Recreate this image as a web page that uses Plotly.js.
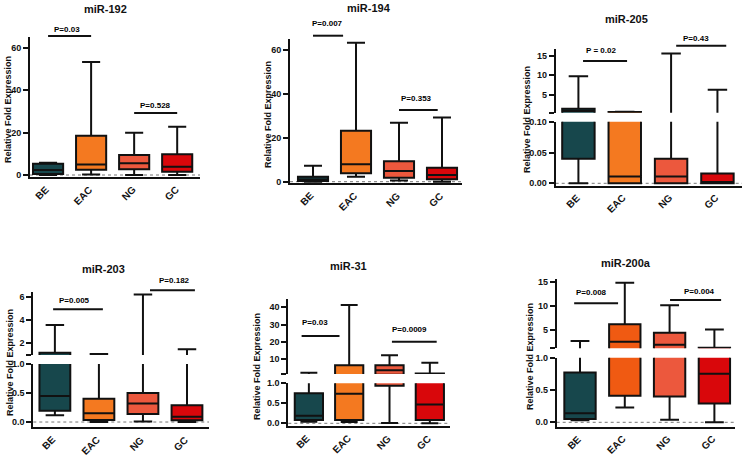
<!DOCTYPE html>
<html>
<head>
<meta charset="utf-8">
<script src="https://cdn.plot.ly/plotly-3.0.1.min.js"></script>
<style>html,body{margin:0;padding:0;background:#fff;}#chart{width:745px;height:456px;}</style>
</head>
<body>
<div id="chart"></div>
<script>
// ---------- DATA ----------
const categories = ['BE', 'EAC', 'NG', 'GC'];
const colors = ['#17474c', '#f47920', '#ec583d', '#d9070b'];
const colors200a = ['#17474c', '#f05a12', '#ec583d', '#d9070b'];

// miR-192
const mir192Min = [0, 0.3, 0, 0];
const mir192Q1  = [0.5, 2.5, 2.7, 1.5];
const mir192Med = [2.4, 5, 5.5, 3.9];
const mir192Q3  = [5.3, 18.6, 9.4, 9.8];
const mir192Max = [5.8, 53.4, 20, 22.8];

// miR-194
const mir194Min = [0, 2.3, 0.5, 0];
const mir194Q1  = [0.3, 3.8, 1.8, 1.1];
const mir194Med = [1, 7.9, 4.9, 3.0];
const mir194Q3  = [2.3, 23.2, 9.3, 6.4];
const mir194Max = [7.3, 63.3, 26.9, 29.3];

// miR-205
const mir205Min = [0, 0, 0, 0];
const mir205Q1  = [0.04, 0, 0, 0];
const mir205Med = [0.85, 0.011, 0.011, 0.002];
const mir205Q3  = [1.4, 0.6, 0.04, 0.016];
const mir205Max = [9.75, 0.65, 15.6, 6.3];

// miR-203
const mir203Min = [0.115, 0, 0.01, 0];
const mir203Q1  = [0.195, 0.034, 0.14, 0.03];
const mir203Med = [0.45, 0.15, 0.32, 0.09];
const mir203Q3  = [1.2, 0.4, 0.5, 0.29];
const mir203Max = [3.57, 1.08, 6.2, 1.49];

// miR-31
const mir31Min = [0.04, 0.03, 0.01, 0];
const mir31Q1  = [0.08, 0.08, 0.94, 0.08];
const mir31Med = [0.19, 0.74, 3.6, 0.47];
const mir31Q3  = [0.75, 6.5, 6.5, 1.7];
const mir31Max = [2.1, 41.3, 12.3, 7.9];

// miR-200a
const mir200aMin = [0.03, 0.23, 0.04, 0];
const mir200aQ1  = [0.05, 0.41, 0.4, 0.29];
const mir200aMed = [0.14, 2.55, 1.9, 0.75];
const mir200aQ3  = [0.77, 6.2, 4.4, 1.3];
const mir200aMax = [2.7, 14.9, 10.2, 5.1];

// ---------- LAYOUT ----------
const W = 745, H = 456;
const FONT = 'Liberation Sans, Arial, sans-serif';
const INK = '#111';
const b = s => '<b>' + s + '</b>';

const panels = [
  {title: 'miR-192', min: mir192Min, q1: mir192Q1, med: mir192Med, q3: mir192Q3, max: mir192Max, colors: colors,
   xpx: [30, 200], xrange: [-0.42, 3.53], titlePos: [105, 9], ytitlePos: [8, 110],
   segs: [{py: [37, 177], range: [-0.94, 65.2], tickvals: [0, 20, 40, 60], ticktext: ['0', '20', '40', '60']}],
   brackets: [{x0: 0, x1: 1, py: 36, text: 'P=0.03', tx: 0.44, ty: 30},
              {x0: 2, x1: 3, py: 113, text: 'P=0.528', tx: 2.49, ty: 106}]},
  {title: 'miR-194', min: mir194Min, q1: mir194Q1, med: mir194Med, q3: mir194Q3, max: mir194Max, colors: colors,
   xpx: [290, 462], xrange: [-0.535, 3.465], titlePos: [369, 8], ytitlePos: [268, 115],
   segs: [{py: [39, 183], range: [-0.59, 65.0], tickvals: [0, 20, 40, 60], ticktext: ['0', '20', '40', '60']}],
   brackets: [{x0: 0, x1: 0.7, py: 35.7, text: 'P=0.007', tx: 0.33, ty: 24},
              {x0: 2, x1: 2.9, py: 110, text: 'P=0.353', tx: 2.4, ty: 98}]},
  {title: 'miR-205', min: mir205Min, q1: mir205Q1, med: mir205Med, q3: mir205Q3, max: mir205Max, colors: colors,
   xpx: [555.7, 742], xrange: [-0.49, 3.53], titlePos: [626, 19], ytitlePos: [527, 120],
   segs: [{py: [121.7, 185.7], range: [-0.0039, 0.10], tickvals: [0, 0.05, 0.10], ticktext: ['0.00', '0.05', '0.10']},
          {py: [49, 112.7], range: [0.4, 16.74], tickvals: [0.42, 5, 10, 15], ticktext: ['', '5', '10', '15']}],
   brackets: [{x0: 0.1, x1: 1.05, py: 61, text: 'P = 0.02', tx: 0.48, ty: 51},
              {x0: 2.11, x1: 3.19, py: 45.7, text: 'P=0.43', tx: 2.54, ty: 38}]},
  {title: 'miR-203', min: mir203Min, q1: mir203Q1, med: mir203Med, q3: mir203Q3, max: mir203Max, colors: colors,
   xpx: [33.3, 209], xrange: [-0.49, 3.50], titlePos: [103, 269], ytitlePos: [10, 363],
   segs: [{py: [364, 427.3], range: [-0.091, 1.0], tickvals: [0, 0.5, 1.0], ticktext: ['0.0', '0.5', '1.0']},
          {py: [291.7, 355], range: [1.0, 6.43], tickvals: [1.01, 2, 4, 6], ticktext: ['', '2', '4', '6']}],
   brackets: [{x0: -0.04, x1: 1.09, py: 309.3, text: 'P=0.005', tx: 0.435, ty: 300},
              {x0: 2.16, x1: 3.18, py: 290.3, text: 'P=0.182', tx: 2.71, ty: 280}]},
  {title: 'miR-31', min: mir31Min, q1: mir31Q1, med: mir31Med, q3: mir31Q3, max: mir31Max, colors: colors,
   xpx: [288.3, 450], xrange: [-0.51, 3.50], titlePos: [348, 266], ytitlePos: [257, 367],
   segs: [{py: [383.3, 426], range: [-0.0675, 1.0], tickvals: [0, 0.5, 1.0], ticktext: ['0.0', '0.5', '1.0']},
          {py: [299, 374], range: [1.4, 44.8], tickvals: [1.43, 10, 20, 30, 40], ticktext: ['', '10', '20', '30', '40']}],
   brackets: [{x0: -0.18, x1: 0.76, py: 336, text: 'P=0.03', tx: 0.15, ty: 322.7},
              {x0: 2.06, x1: 3.17, py: 341.7, text: 'P=0.0009', tx: 2.49, ty: 329}]},
  {title: 'miR-200a', min: mir200aMin, q1: mir200aQ1, med: mir200aMed, q3: mir200aQ3, max: mir200aMax, colors: colors200a,
   xpx: [556.7, 735], xrange: [-0.52, 3.46], titlePos: [626, 263], ytitlePos: [530, 357],
   segs: [{py: [357.7, 426.7], range: [-0.068, 1.0], tickvals: [0, 0.5, 1.0], ticktext: ['0.0', '0.5', '1.0']},
          {py: [279.3, 348.3], range: [1.16, 15.63], tickvals: [1.18, 5, 10, 15], ticktext: ['', '5', '10', '15']}],
   brackets: [{x0: -0.13, x1: 0.85, py: 303.3, text: 'P=0.008', tx: 0.26, ty: 292.7},
              {x0: 2.01, x1: 3.15, py: 300, text: 'P=0.004', tx: 2.66, ty: 291.3}]}
];

const layout = {
  width: W, height: H,
  margin: {l: 0, r: 0, t: 0, b: 0},
  paper_bgcolor: '#ffffff', plot_bgcolor: 'rgba(0,0,0,0)',
  showlegend: false,
  font: {family: FONT, color: INK},
  shapes: [], annotations: []
};
const data = [];

function axKey(letter, n) { return n === 1 ? letter + 'axis' : letter + 'axis' + n; }
function axRef(letter, n) { return n === 1 ? letter : letter + n; }

let yi = 1;
panels.forEach((p, i) => {
  const xn = i + 1;
  const xr = axRef('x', xn);
  const lowerY = yi;
  layout[axKey('x', xn)] = {
    domain: [p.xpx[0] / W, p.xpx[1] / W], range: p.xrange,
    type: 'category', categoryorder: 'array', categoryarray: categories,
    anchor: axRef('y', lowerY),
    showline: true, linewidth: 2, linecolor: INK, ticks: '', showticklabels: false,
    showgrid: false, zeroline: false, fixedrange: true
  };
  p.segs.forEach((s) => {
    const yn = yi++;
    const yr = axRef('y', yn);
    layout[axKey('y', yn)] = {
      domain: [1 - s.py[1] / H, 1 - s.py[0] / H], range: s.range, anchor: xr,
      showline: true, linewidth: 2, linecolor: INK,
      ticks: 'outside', ticklen: 5, tickwidth: 2, tickcolor: INK,
      tickmode: 'array', tickvals: s.tickvals, ticktext: s.ticktext.map(t => t ? b(t) : ''),
      tickfont: {family: FONT, size: 9, color: INK},
      showgrid: false, zeroline: false, fixedrange: true
    };
    categories.forEach((c, ci) => {
      data.push({
        type: 'box', x: [c],
        q1: [p.q1[ci]], median: [p.med[ci]], q3: [p.q3[ci]],
        lowerfence: [p.min[ci]], upperfence: [p.max[ci]],
        xaxis: xr, yaxis: yr,
        fillcolor: p.colors[ci], line: {color: INK, width: 2},
        width: 0.7, whiskerwidth: 0.6, boxpoints: false, hoverinfo: 'skip'
      });
    });
  });
  // slanted bold category labels
  categories.forEach((c) => {
    layout.annotations.push({text: b(c), xref: xr, yref: axRef('y', lowerY) + ' domain',
      x: c, y: 0, xanchor: 'right', yanchor: 'top', xshift: 6, yshift: -4,
      textangle: -45, showarrow: false, font: {family: FONT, size: 10, color: INK}});
  });
  // dotted zero line in the lowest segment
  layout.shapes.push({type: 'line', xref: xr + ' domain', yref: axRef('y', lowerY),
    x0: 0, x1: 1, y0: 0, y1: 0, line: {color: '#777', width: 1, dash: 'dot'}, layer: 'below'});
  // significance brackets
  p.brackets.forEach(br => {
    layout.shapes.push({type: 'line', xref: xr, yref: 'paper', x0: br.x0, x1: br.x1,
      y0: 1 - br.py / H, y1: 1 - br.py / H, line: {color: INK, width: 2}});
    layout.annotations.push({text: b(br.text), xref: xr, yref: 'paper', x: br.tx, y: 1 - br.ty / H,
      xanchor: 'center', yanchor: 'middle', showarrow: false,
      font: {family: FONT, size: 8, color: '#000'}});
  });
  // panel title
  layout.annotations.push({text: b(p.title), xref: 'paper', yref: 'paper',
    x: p.titlePos[0] / W, y: 1 - p.titlePos[1] / H, xanchor: 'center', yanchor: 'middle',
    showarrow: false, font: {family: FONT, size: 11, color: INK}});
  // y-axis title
  layout.annotations.push({text: b('Relative Fold Expression'), xref: 'paper', yref: 'paper',
    x: p.ytitlePos[0] / W, y: 1 - p.ytitlePos[1] / H, xanchor: 'center', yanchor: 'middle',
    textangle: -90, showarrow: false, font: {family: FONT, size: 9, color: INK}});
});

Plotly.newPlot('chart', data, layout, {displayModeBar: false, staticPlot: true});
</script>
</body>
</html>
